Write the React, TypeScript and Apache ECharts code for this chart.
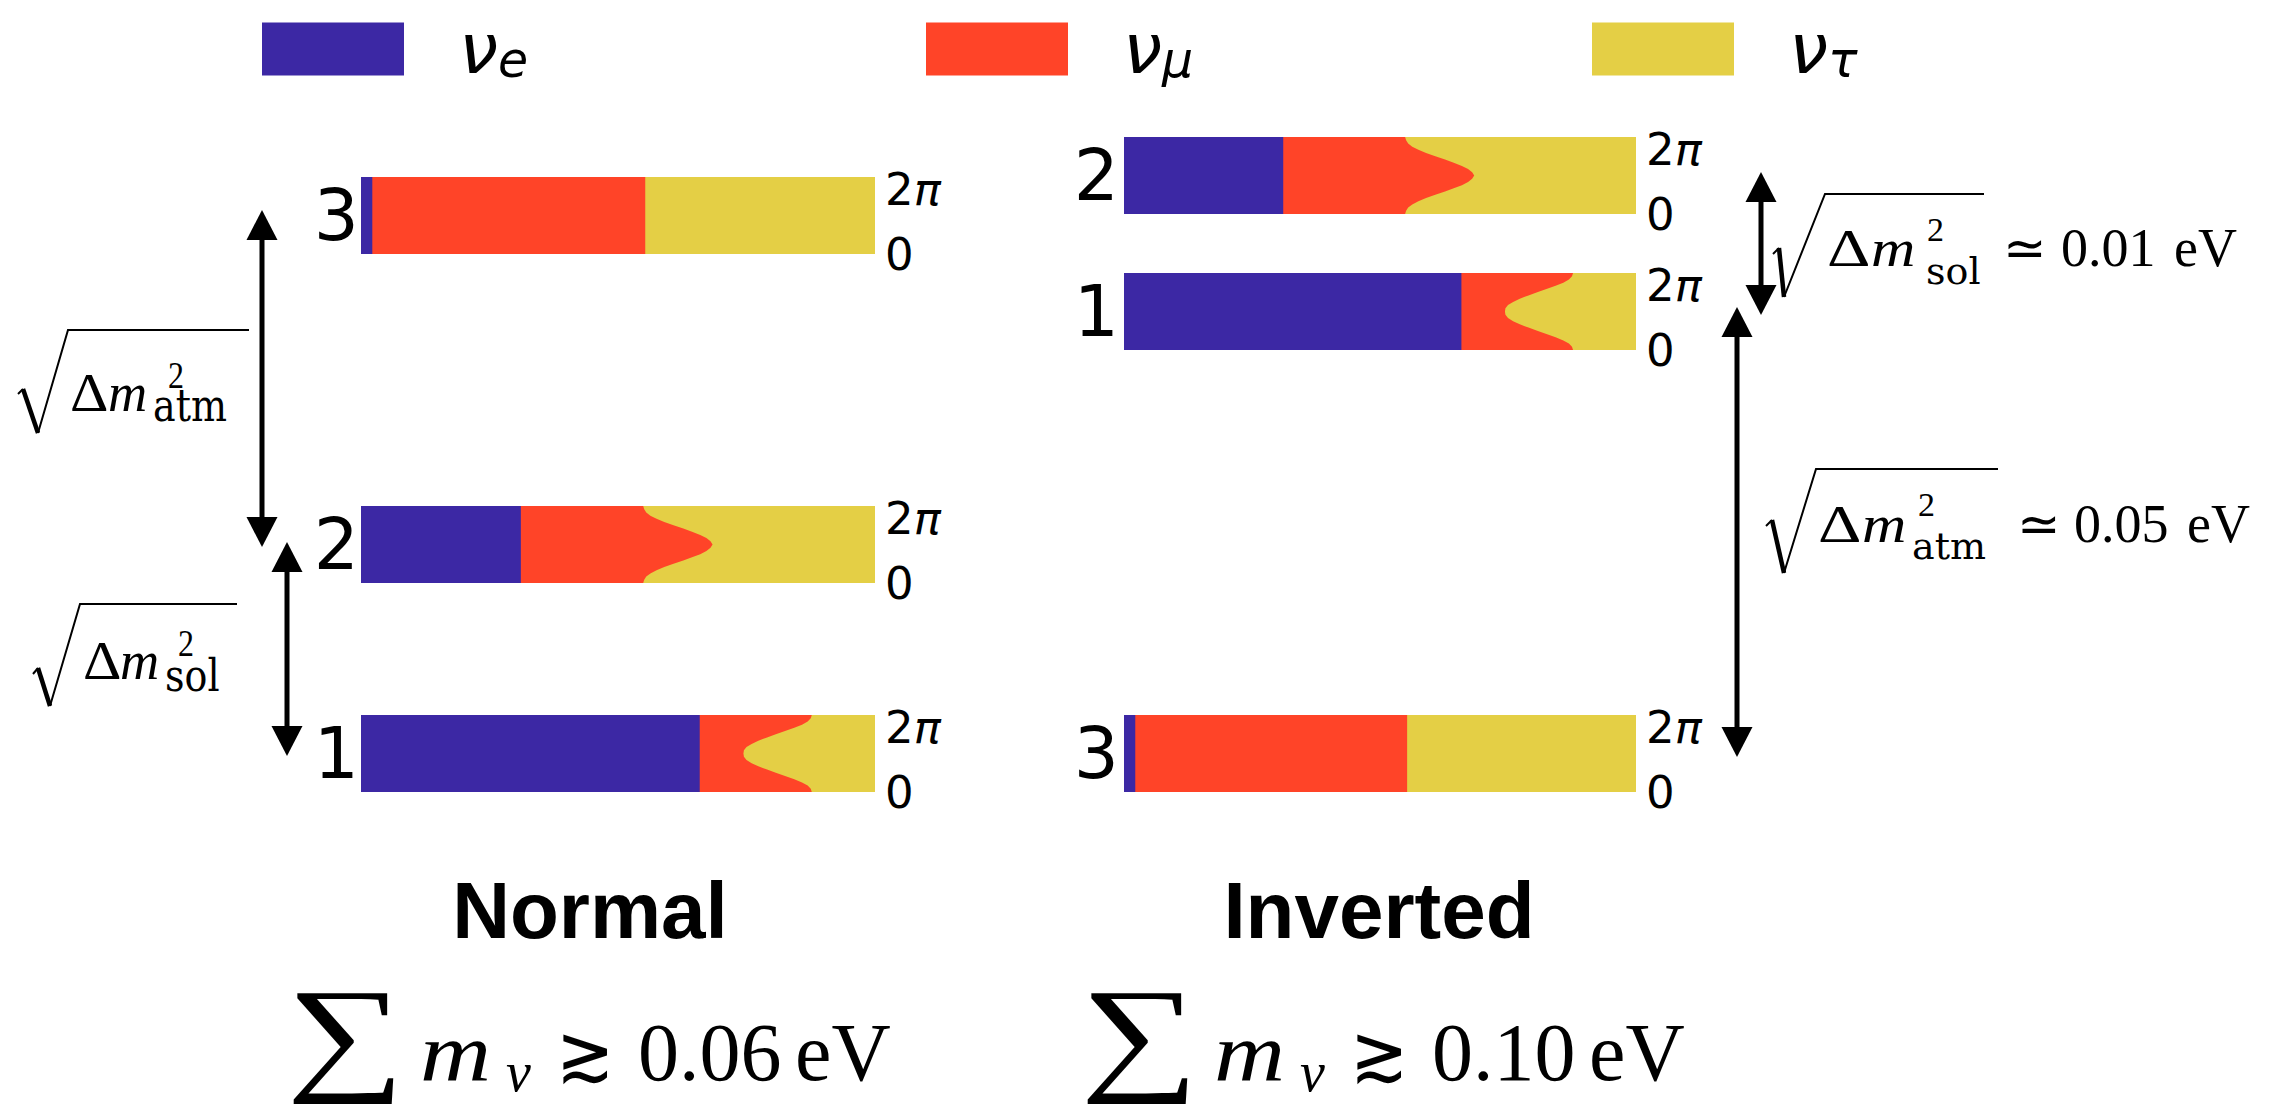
import React, { useEffect, useRef } from 'react';
import * as echarts from 'echarts';

// ---------- data ----------
const flavourNames = ['νe', 'νμ', 'ντ'];
const flavourSubs = ['e', 'μ', 'τ'];
const flavourColours = ['#3C28A4', '#FF4428', '#E4CF45'];

// CP phase δ in degrees, bottom (0) to top (2π) of each bar
const phaseSamples = [0, 15, 30, 45, 60, 75, 90, 105, 120, 135, 150, 165, 180, 195, 210, 225, 240, 255, 270, 285, 300, 315, 330, 345, 360];
const phaseEnds = [0, 360];
const phaseTickLabels = ['0', '2π'];

// cumulative flavour fractions (left edge of bar = 0, right edge = 1)
const nu3ElectronEdge = [0.022, 0.022];
const nu3MuonEdge = [0.553, 0.553];
const nu2ElectronEdge = [0.311, 0.311];
const nu2MuonEdge = [0.549, 0.551, 0.555, 0.563, 0.575, 0.590, 0.608, 0.627, 0.644, 0.660, 0.672, 0.680, 0.684, 0.680, 0.672, 0.660, 0.644, 0.627, 0.608, 0.590, 0.575, 0.563, 0.555, 0.551, 0.549];
const nu1ElectronEdge = [0.659, 0.659];
const nu1MuonEdge = [0.877, 0.875, 0.869, 0.858, 0.843, 0.825, 0.807, 0.790, 0.773, 0.760, 0.750, 0.745, 0.744, 0.745, 0.750, 0.760, 0.773, 0.790, 0.807, 0.825, 0.843, 0.858, 0.869, 0.875, 0.877];
const tauEdge = [1, 1];

const massStates: Record<string, any> = {
  '1': { ePhases: phaseEnds, eEdge: nu1ElectronEdge, muPhases: phaseSamples, muEdge: nu1MuonEdge },
  '2': { ePhases: phaseEnds, eEdge: nu2ElectronEdge, muPhases: phaseSamples, muEdge: nu2MuonEdge },
  '3': { ePhases: phaseEnds, eEdge: nu3ElectronEdge, muPhases: phaseEnds, muEdge: nu3MuonEdge },
};

const hierarchyTitles = ['Normal', 'Inverted'];
const sumValues = ['0.06', '0.10'];

// ---------- layout ----------
const panels = [
  { state: '3', left: 361, top: 177, width: 514, gap: 2 },
  { state: '2', left: 361, top: 506, width: 514, gap: 2 },
  { state: '1', left: 361, top: 715, width: 514, gap: 2 },
  { state: '2', left: 1124, top: 137, width: 512, gap: 5 },
  { state: '1', left: 1124, top: 273, width: 512, gap: 5 },
  { state: '3', left: 1124, top: 715, width: 512, gap: 5 },
];
const BAR_H = 77;

function fillToEdge(params: any, api: any) {
  if (params.dataIndexInside !== 0) return null;
  const n = params.dataInsideLength;
  const pts: number[][] = [];
  for (let j = 0; j < n; j++) pts.push(api.coord([api.value(0, j), api.value(1, j)]));
  for (let j = n - 1; j >= 0; j--) pts.push(api.coord([0, api.value(1, j)]));
  return { type: 'polygon', shape: { points: pts }, style: { fill: api.visual('color') } };
}

const SERIF = 'Liberation Serif';

function T(text: string, x: number, base: number, size: number, o: any = {}) {
  const sy = o.sy ?? 1;
  const sx = o.sx ?? 1;
  return {
    type: 'text',
    x,
    y: base - 0.34 * size * sy,
    scaleX: sx,
    scaleY: sy,
    silent: true,
    z: 10,
    style: {
      text,
      fontSize: size,
      fontFamily: o.family ?? SERIF,
      fontStyle: o.italic ? 'italic' : 'normal',
      fontWeight: o.weight ?? 'normal',
      fill: '#000',
      align: o.align ?? 'left',
      verticalAlign: 'middle',
    },
  };
}

function radical(t0: number[], t1: number[], bottom: number[], top: number[], end: number[]) {
  return [
    { type: 'polyline', silent: true, z: 10, shape: { points: [t0, t1] }, style: { stroke: '#000', lineWidth: 2, fill: null } },
    { type: 'line', silent: true, z: 10, shape: { x1: t1[0], y1: t1[1], x2: bottom[0], y2: bottom[1] }, style: { stroke: '#000', lineWidth: 4.5 } },
    { type: 'polyline', silent: true, z: 10, shape: { points: [bottom, top, end] }, style: { stroke: '#000', lineWidth: 2, fill: null, lineJoin: 'miter' } },
  ];
}

function arrow(x: number, yTop: number, yBot: number) {
  const hw = 15.5, hh = 30, lw = 5;
  return [
    { type: 'line', silent: true, z: 10, shape: { x1: x, y1: yTop + hh - 2, x2: x, y2: yBot - hh + 2 }, style: { stroke: '#000', lineWidth: lw } },
    { type: 'polygon', silent: true, z: 10, shape: { points: [[x, yTop], [x - hw, yTop + hh], [x + hw, yTop + hh]] }, style: { fill: '#000' } },
    { type: 'polygon', silent: true, z: 10, shape: { points: [[x, yBot], [x - hw, yBot - hh], [x + hw, yBot - hh]] }, style: { fill: '#000' } },
  ];
}

function buildGraphic() {
  const g: any[] = [];
  // arrows
  g.push(...arrow(262, 210, 547));
  g.push(...arrow(287, 542, 756));
  g.push(...arrow(1761, 172, 315));
  g.push(...arrow(1737, 307, 757));

  // left: sqrt(Δm²_atm)
  g.push(...radical([18, 394], [23, 389], [38, 433], [68, 330], [249, 330]));
  g.push(T('Δ', 70, 411.5, 46, { sx: 1.3, sy: 1.2 }));
  g.push(T('m', 108, 411.5, 46, { italic: true, sx: 1.18, sy: 1.2 }));
  g.push(T('2', 168, 389, 32, { sy: 1.2 }));
  g.push(T('atm', 153, 421, 38, { family: 'DejaVu Serif', sy: 1.2 }));

  // left: sqrt(Δm²_sol)
  g.push(...radical([33, 674], [38, 668], [50, 706], [80, 604], [237, 604]));
  g.push(T('Δ', 83, 679.4, 46, { sx: 1.3, sy: 1.2 }));
  g.push(T('m', 120, 679.4, 46, { italic: true, sx: 1.18, sy: 1.2 }));
  g.push(T('2', 178, 656.5, 32, { sy: 1.2 }));
  g.push(T('sol', 165, 691, 38, { family: 'DejaVu Serif', sy: 1.2 }));

  // right: sqrt(Δm²_sol) ≃ 0.01 eV
  g.push(...radical([1773, 254], [1779, 248], [1784, 297], [1825, 194], [1984, 194]));
  g.push(T('Δ', 1827, 266, 52, { sx: 1.3 }));
  g.push(T('m', 1871, 266, 52, { italic: true, sx: 1.18 }));
  g.push(T('2', 1927, 241, 34));
  g.push(T('sol', 1926, 284, 38, { family: 'DejaVu Serif' }));
  g.push(T('≃', 2003, 266, 52, { family: 'DejaVu Sans', weight: 200 }));
  g.push(T('0.01', 2061, 266, 54));
  g.push(T('eV', 2174, 266, 54));

  // right: sqrt(Δm²_atm) ≃ 0.05 eV
  g.push(...radical([1766, 526], [1772, 520], [1784, 573], [1816, 469], [1998, 469]));
  g.push(T('Δ', 1818, 542, 52, { sx: 1.3 }));
  g.push(T('m', 1862, 542, 52, { italic: true, sx: 1.18 }));
  g.push(T('2', 1918, 516, 34));
  g.push(T('atm', 1912, 559, 38, { family: 'DejaVu Serif' }));
  g.push(T('≃', 2017, 542, 52, { family: 'DejaVu Sans', weight: 200 }));
  g.push(T('0.05', 2074, 542, 54));
  g.push(T('eV', 2187, 542, 54));

  // titles and sums
  const titleX = [590, 1379];
  const sumOffset = [0, 794];
  hierarchyTitles.forEach((t, i) => {
    g.push(T(t, titleX[i], 938, 80, { family: 'Liberation Sans', weight: 'bold', align: 'center' }));
    const o = sumOffset[i];
    g.push(T('∑', 286 + o, 1077, 128, { sx: 1.3 }));
    g.push(T('m', 420 + o, 1080, 82, { italic: true, sx: 1.2 }));
    g.push(T('ν', 506 + o, 1091, 56, { italic: true }));
    g.push(T('≳', 556 + o, 1080, 80, { family: 'DejaVu Sans', weight: 200, sx: 0.87 }));
    g.push(T(sumValues[i], 638 + o, 1080, 82));
    g.push(T('eV', 795 + o, 1080, 82));
  });
  return g;
}

function buildOption() {
  const grid = panels.map((p) => ({ left: p.left, top: p.top, width: p.width, height: BAR_H }));
  const xAxis = panels.map((_, g) => ({ gridIndex: g, type: 'value', min: 0, max: 1, show: false }));
  const yAxis: any[] = [];
  panels.forEach((p, g) => {
    yAxis.push({
      gridIndex: g, type: 'value', min: 0, max: 360, interval: 360, position: 'right',
      axisLine: { show: false }, axisTick: { show: false }, splitLine: { show: false },
      axisLabel: {
        margin: 10,
        formatter: (v: number) => {
          if (v === 360) return '{two|' + phaseTickLabels[1][0] + '}{pi|' + phaseTickLabels[1][1] + '}';
          if (v === 0) return '{zero|' + phaseTickLabels[0] + '}';
          return '';
        },
        rich: {
          two: { fontSize: 45, fontFamily: 'DejaVu Sans', color: '#000', padding: [24, 0, 0, 0] },
          pi: { fontSize: 45, fontFamily: 'DejaVu Sans', fontStyle: 'italic', color: '#000', padding: [24, 0, 0, 0] },
          zero: { fontSize: 45, fontFamily: 'DejaVu Sans', color: '#000' },
        },
      },
    });
    yAxis.push({
      gridIndex: g, type: 'value', min: 0, max: 360, position: 'left',
      axisLine: { show: false }, axisTick: { show: false }, splitLine: { show: false }, axisLabel: { show: false },
      name: p.state, nameLocation: 'middle', nameRotate: 0, nameGap: p.gap,
      nameTextStyle: { fontSize: 71, fontFamily: 'DejaVu Sans', color: '#000', padding: [22, 0, 0, 0] },
    });
  });

  const series: any[] = [];
  panels.forEach((p, g) => {
    const st = massStates[p.state];
    const layers = [
      { f: 2, phases: phaseEnds, edge: tauEdge },
      { f: 1, phases: st.muPhases, edge: st.muEdge },
      { f: 0, phases: st.ePhases, edge: st.eEdge },
    ];
    layers.forEach((L) => {
      series.push({
        type: 'custom',
        name: flavourNames[L.f],
        coordinateSystem: 'cartesian2d',
        xAxisIndex: g,
        yAxisIndex: 2 * g,
        silent: true,
        itemStyle: { color: flavourColours[L.f] },
        data: L.phases.map((ph: number, i: number) => [L.edge[i], ph]),
        renderItem: fillToEdge,
      });
    });
  });

  const legendLeft = [257, 921, 1587];
  const legend = flavourNames.map((name, i) => ({
    data: [name],
    left: legendLeft[i],
    top: 9,
    padding: 5,
    itemWidth: 142,
    itemHeight: 53,
    icon: 'rect',
    selectedMode: false,
    formatter: () => '{nu|ν}{sub|' + flavourSubs[i] + '}',
    textStyle: {
      rich: {
        nu: { fontSize: 70, fontStyle: 'italic', fontFamily: 'DejaVu Sans', color: '#000', padding: [0, 0, 0, 50] },
        sub: { fontSize: 49, fontStyle: 'italic', fontFamily: 'DejaVu Sans', color: '#000', padding: [22, 0, 0, 0] },
      },
    },
  }));

  return {
    animation: false,
    backgroundColor: '#ffffff',
    grid,
    xAxis,
    yAxis,
    legend,
    series,
    graphic: { elements: buildGraphic() },
  };
}

export default function App() {
  const ref = useRef<HTMLDivElement>(null);
  useEffect(() => {
    document.body.style.margin = '0';
    if (!ref.current) return;
    const chart = echarts.init(ref.current, undefined, { renderer: 'svg' });
    chart.setOption(buildOption() as any);
    return () => chart.dispose();
  }, []);
  return <div ref={ref} style={{ width: 2280, height: 1115 }} />;
}
